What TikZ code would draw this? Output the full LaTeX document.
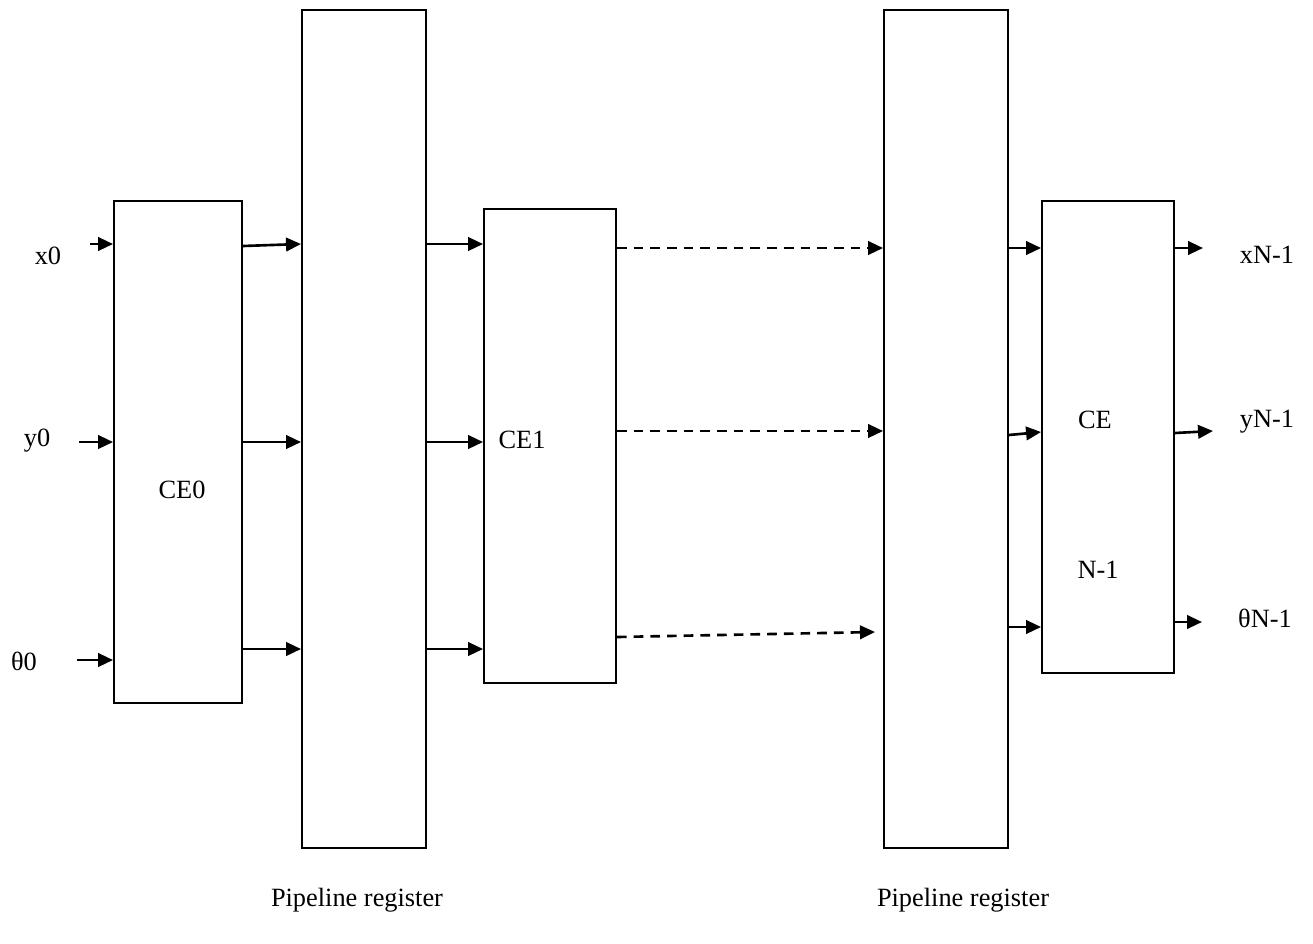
\documentclass[tikz,border=0pt]{standalone}
\usepackage{fontspec}
\setmainfont{Liberation Serif}
\usetikzlibrary{arrows.meta}
\tikzset{
  blk/.style={draw, line width=1.1pt, inner sep=0pt, rectangle},
  arr/.style={line width=1.5pt, -{Triangle[length=0.3cm,width=0.27cm]}},
  darr/.style={arr, dash pattern=on 5.5pt off 4pt},
  lbl/.style={font=\fontsize{15}{17}\selectfont, inner sep=0pt}
}

\begin{document}
\begin{tikzpicture}[x=0.02cm, y=-0.02cm]
\useasboundingbox (0,0) rectangle (1313,944);

% Bloques CE y registros
\node [blk, minimum width=2.56cm, minimum height=10.04cm] (ce0) at (178,452) {};
\node [blk, minimum width=2.48cm, minimum height=16.76cm] (reg1) at (364,429) {};
\node [blk, minimum width=2.64cm, minimum height=9.48cm] (ce1) at (550,446) {};
\node [blk, minimum width=2.48cm, minimum height=16.76cm] (reg2) at (946,429) {};
\node [blk, minimum width=2.64cm, minimum height=9.44cm] (cen) at (1108,437) {};

% Etiquetas
\node [lbl] (tce0) at (182,490) {CE0};
\node [lbl] (tce1) at (522,440) {CE1};
\node [lbl] (tce) at (1095,420) {CE};
\node [lbl] (tn) at (1098,570) {N-1};
\node [lbl] (x0) at (48,256) {x0};
\node [lbl] (y0) at (37,441) {y0};
\node [lbl] (t0) at (24,661) {θ0};
\node [lbl] (xn) at (1267,255) {xN-1};
\node [lbl] (yn) at (1267,422) {yN-1};
\node [lbl] (tnn) at (1265,618) {θN-1};
\node [lbl] (preg1) at (357,900) {Pipeline register};
\node [lbl] (preg2) at (963,900) {Pipeline register};

% Entradas
\coordinate (xin) at (90,244);
\coordinate (yin) at (79,442);
\coordinate (tin) at (77,660);
\draw [arr] (xin) -- (ce0.west |- xin);
\draw [arr] (yin) -- (ce0.west |- yin);
\draw [arr] (tin) -- (ce0.west |- tin);

% CE0 -> registro
\draw [arr] (ce0.east |- 0,246) -- (reg1.west |- 0,244);
\draw [arr] (ce0.east |- 0,442) -- (reg1.west |- 0,442);
\draw [arr] (ce0.east |- 0,649) -- (reg1.west |- 0,649);

% registro -> CE1
\draw [arr] (reg1.east |- 0,244) -- (ce1.west |- 0,244);
\draw [arr] (reg1.east |- 0,442) -- (ce1.west |- 0,442);
\draw [arr] (reg1.east |- 0,649) -- (ce1.west |- 0,649);

% CE1 -> registro (discontinuas)
\coordinate (dend) at (875,632);
\draw [darr] (ce1.east |- 0,248) -- (reg2.west |- 0,248);
\draw [darr] (ce1.east |- 0,431) -- (reg2.west |- 0,431);
\draw [darr] (ce1.east |- 0,637) -- (dend);

% registro -> CE N-1
\draw [arr] (reg2.east |- 0,248) -- (cen.west |- 0,248);
\draw [arr] (reg2.east |- 0,435) -- (cen.west |- 0,432);
\draw [arr] (reg2.east |- 0,627) -- (cen.west |- 0,627);

% Salidas
\coordinate (xout) at (1203,248);
\coordinate (yout) at (1213,431);
\coordinate (tout) at (1202,622);
\draw [arr] (cen.east |- xout) -- (xout);
\draw [arr] (cen.east |- 0,433) -- (yout);
\draw [arr] (cen.east |- tout) -- (tout);
\end{tikzpicture}
\end{document}
